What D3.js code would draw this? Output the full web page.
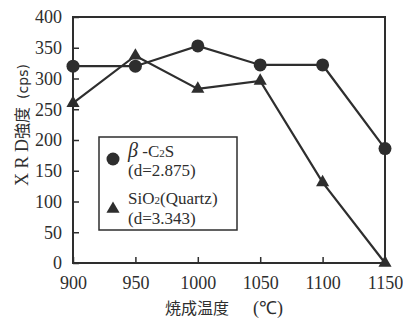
<!DOCTYPE html>
<html>
<head>
<meta charset="utf-8">
<script src="https://cdn.jsdelivr.net/npm/d3@7"></script>
<style>
  body { margin: 0; background: #fff; }
  text { font-family: "Liberation Serif", "Times New Roman", serif; fill: #2e2e2e; }
  .cjk { font-family: "Noto Sans CJK JP", sans-serif; }
</style>
</head>
<body>
<svg id="chart" width="403" height="320"></svg>
<script>
// data
const temps = [900, 950, 1000, 1050, 1100, 1150];
const c2s = [320, 320, 353, 322, 322, 186];
const quartz = [260, 337, 283, 296, 131, 0];
const yTicks = [0, 50, 100, 150, 200, 250, 300, 350, 400];

const ink = "#2e2e2e";
const svg = d3.select("#chart");

const x = d3.scaleLinear().domain([900, 1150]).range([73, 385]);
const y = d3.scaleLinear().domain([0, 400]).range([263, 17]);

// frame
svg.append("rect")
  .attr("x", x(900)).attr("y", y(400))
  .attr("width", x(1150) - x(900)).attr("height", y(0) - y(400))
  .attr("fill", "none").attr("stroke", ink).attr("stroke-width", 2);

// y axis, ticks pointing inward
const yAxis = svg.append("g")
  .attr("transform", `translate(${x(900)},0)`)
  .call(d3.axisLeft(y).tickValues(yTicks).tickSizeInner(-6).tickSizeOuter(0).tickPadding(11));
yAxis.select(".domain").remove();
yAxis.selectAll("line").attr("stroke", ink).attr("stroke-width", 1.5);
yAxis.selectAll("text").attr("font-size", 18).attr("fill", ink);

// x axis
const xAxis = svg.append("g")
  .attr("transform", `translate(0,${y(0)})`)
  .call(d3.axisBottom(x).tickValues(temps).tickFormat(d3.format("d")).tickSizeInner(-6).tickSizeOuter(0).tickPadding(13));
xAxis.select(".domain").remove();
xAxis.selectAll("line").attr("stroke", ink).attr("stroke-width", 1.5);
xAxis.selectAll("text").attr("font-size", 18).attr("fill", ink);

const line = d3.line().x((d, i) => x(temps[i])).y(d => y(d));

// β-C2S
svg.append("path").datum(c2s)
  .attr("d", line).attr("fill", "none").attr("stroke", ink).attr("stroke-width", 2.2);
svg.selectAll(".c2s").data(c2s).enter().append("circle")
  .attr("cx", (d, i) => x(temps[i])).attr("cy", d => y(d)).attr("r", 6.5).attr("fill", ink);

// SiO2
const tri = d3.symbol().type(d3.symbolTriangle).size(75);
svg.append("path").datum(quartz)
  .attr("d", line).attr("fill", "none").attr("stroke", ink).attr("stroke-width", 2.2);
svg.selectAll(".qz").data(quartz).enter().append("path")
  .attr("d", tri)
  .attr("transform", (d, i) => `translate(${x(temps[i])},${y(d)})`)
  .attr("fill", ink);

// legend
const lg = svg.append("g");
lg.append("rect").attr("x", 99).attr("y", 137).attr("width", 138).attr("height", 93)
  .attr("fill", "#fff").attr("stroke", ink).attr("stroke-width", 1.5);
lg.append("circle").attr("cx", 113).attr("cy", 159).attr("r", 6.5).attr("fill", ink);
const t1 = lg.append("text").attr("x", 128).attr("y", 157).attr("font-size", 17);
t1.append("tspan").attr("font-style", "italic").attr("font-size", 20).text("β");
t1.append("tspan").text(" -C");
t1.append("tspan").attr("font-size", 11).text("2");
t1.append("tspan").text("S");
lg.append("text").attr("x", 128).attr("y", 176).attr("font-size", 17).text("(d=2.875)");
lg.append("path").attr("d", tri).attr("transform", "translate(113,209)").attr("fill", ink);
const t2 = lg.append("text").attr("x", 128).attr("y", 204).attr("font-size", 17);
t2.append("tspan").text("SiO");
t2.append("tspan").attr("font-size", 11).text("2");
t2.append("tspan").text("(Quartz)");
lg.append("text").attr("x", 128).attr("y", 224).attr("font-size", 17).text("(d=3.343)");

// axis titles
const yl = svg.append("text")
  .attr("transform", "translate(28,125) rotate(-90)")
  .attr("text-anchor", "middle").attr("font-size", 18);
yl.append("tspan").text("X R D");
yl.append("tspan").attr("class", "cjk").attr("font-size", 16).text("強度");
yl.append("tspan").attr("font-size", 14).attr("dx", 8).attr("font-family", "DejaVu Sans, sans-serif").text("(cps)");

const xl = svg.append("text")
  .attr("x", 224).attr("y", 314).attr("text-anchor", "middle").attr("font-size", 18);
xl.append("tspan").attr("class", "cjk").attr("font-size", 16).text("焼成温度");
xl.append("tspan").attr("dx", 24).text("(℃)");
</script>
</body>
</html>
